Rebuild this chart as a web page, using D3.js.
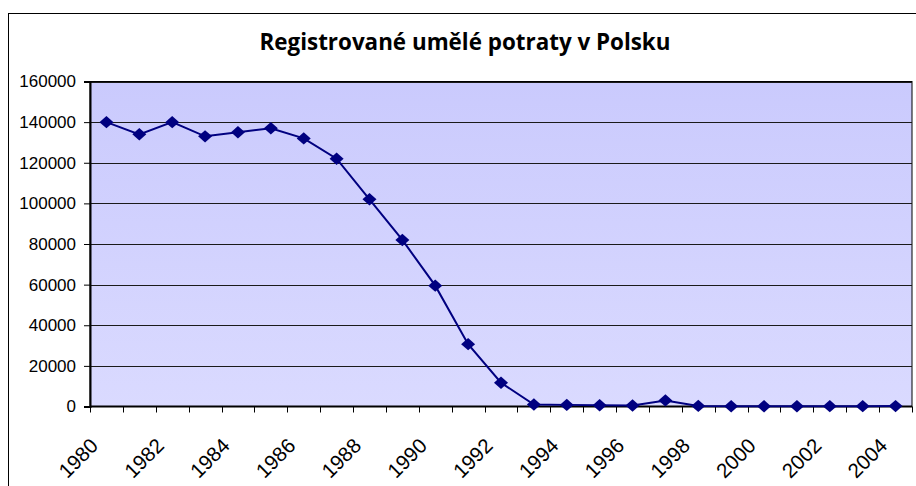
<!DOCTYPE html>
<meta charset="utf-8">
<style>
body { margin:0; background:#fff; }
svg { display:block; }
.ylab { font-family: "Liberation Sans", Arial, sans-serif; font-size:17px; fill:#000; }
.xlab { font-family: "Liberation Sans", Arial, sans-serif; font-size:20.5px; fill:#000; }
.title { font-family: "Open Sans", "Noto Sans", sans-serif; font-weight:bold; font-size:22.4px; fill:#000; }
</style>
<body>
<div id="chart"></div>
<script src="https://cdn.jsdelivr.net/npm/d3@7"></script>
<script>
// data
var title = "Registrované umělé potraty v Polsku";
var years = [1980,1981,1982,1983,1984,1985,1986,1987,1988,1989,1990,1991,1992,
             1993,1994,1995,1996,1997,1998,1999,2000,2001,2002,2003,2004];
var values = [140000,134000,140000,133000,135000,137000,132000,122000,102000,82000,59500,30700,11700,
              1000,800,600,500,3000,300,150,140,120,160,170,190];
var yTicks = [0,20000,40000,60000,80000,100000,120000,140000,160000];
var xLabels = [1980,1982,1984,1986,1988,1990,1992,1994,1996,1998,2000,2002,2004];

var width = 916, height = 486;
var plot = {left:90, right:912, top:81.5, bottom:406.5};

var svg = d3.select("#chart").append("svg").attr("width", width).attr("height", height);

// gradient for plot area
var defs = svg.append("defs");
var grad = defs.append("linearGradient").attr("id","bg").attr("x1",0).attr("y1",0).attr("x2",0).attr("y2",1);
grad.append("stop").attr("offset","0%").attr("stop-color","#cacafd");
grad.append("stop").attr("offset","100%").attr("stop-color","#dadaff");

// outer chart border
svg.append("rect").attr("x",8.5).attr("y",13.5).attr("width",912).attr("height",500)
  .attr("fill","#fff").attr("stroke","#000").attr("stroke-width",1);

var x = d3.scaleBand().domain(years).range([plot.left, plot.right]);
var y = d3.scaleLinear().domain([0,160000]).range([plot.bottom, plot.top]);

svg.append("rect").attr("x",plot.left).attr("y",plot.top)
  .attr("width",plot.right-plot.left).attr("height",plot.bottom-plot.top)
  .attr("fill","url(#bg)").attr("stroke","#000").attr("stroke-width",1);

// gridlines
svg.append("g").selectAll("line").data(yTicks.slice(1)).enter().append("line")
  .attr("x1",plot.left).attr("x2",plot.right)
  .attr("y1",function(d){ return Math.round(y(d))+0.5; })
  .attr("y2",function(d){ return Math.round(y(d))+0.5; })
  .attr("stroke","#1a1a1a").attr("stroke-width",1);

// y axis
var yAxis = svg.append("g").attr("transform","translate("+plot.left+",0)")
  .call(d3.axisLeft(y).tickValues(yTicks).tickSize(6).tickPadding(8).tickFormat(d3.format("d")));
yAxis.select(".domain").attr("stroke","#000").attr("stroke-width",2);
yAxis.selectAll(".tick line").attr("stroke","#000");
yAxis.selectAll(".tick text").attr("class","ylab").attr("font-size",null).attr("font-family",null);

// x axis: ticks on category boundaries
var bounds = years.map(function(d){ return x(d); }).concat([plot.right]);
var xg = svg.append("g");
xg.append("line").attr("x1",plot.left).attr("x2",plot.right).attr("y1",plot.bottom).attr("y2",plot.bottom)
  .attr("stroke","#000").attr("stroke-width",2);
xg.selectAll(".tk").data(bounds).enter().append("line").attr("class","tk")
  .attr("x1",function(d){ return Math.round(d)+0.5; }).attr("x2",function(d){ return Math.round(d)+0.5; })
  .attr("y1",plot.bottom).attr("y2",plot.bottom+6).attr("stroke","#000");
xg.selectAll("text").data(xLabels).enter().append("text").attr("class","xlab")
  .attr("text-anchor","end")
  .attr("transform",function(d){ return "translate("+(x(d)+x.bandwidth()/2-7)+",447) rotate(-45)"; })
  .text(function(d){ return d; });

// line + markers
var cx = function(d,i){ return x(years[i])+x.bandwidth()/2; };
var line = d3.line().x(function(d,i){ return cx(d,i); }).y(function(d){ return y(d); });
svg.append("path").datum(values).attr("d",line).attr("fill","none")
  .attr("stroke","#000080").attr("stroke-width",2);

// diamond a bit wider than tall, like the excel marker
var diamond = { draw: function(ctx) {
  ctx.moveTo(0,-6.2); ctx.lineTo(7,0); ctx.lineTo(0,6.2); ctx.lineTo(-7,0); ctx.closePath();
}};
svg.append("g").selectAll("path").data(values).enter().append("path")
  .attr("d", d3.symbol().type(diamond))
  .attr("transform",function(d,i){ return "translate("+cx(d,i)+","+y(d)+")"; })
  .attr("fill","#000080");

// title
svg.append("text").attr("class","title").attr("x",465).attr("y",50).attr("text-anchor","middle").text(title);
</script>
</body>
